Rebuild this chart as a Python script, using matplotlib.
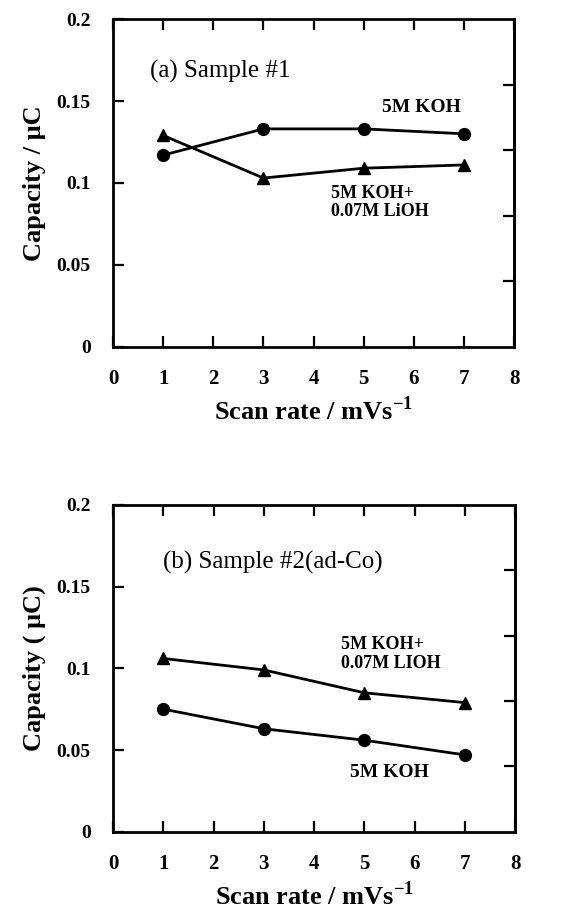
import matplotlib
matplotlib.use("Agg")
import matplotlib.pyplot as plt
import numpy as np

# Data
scan_rate = [1, 3, 5, 7]
a_koh = [0.117, 0.133, 0.133, 0.130]
a_koh_lioh = [0.129, 0.103, 0.109, 0.111]
b_koh = [0.075, 0.063, 0.056, 0.047]
b_koh_lioh = [0.106, 0.099, 0.085, 0.079]

xticks = [0, 1, 2, 3, 4, 5, 6, 7, 8]
yticks = [0, 0.05, 0.1, 0.15, 0.2]
ytick_labels = ["0", "0.05", "0.1", "0.15", "0.2"]
right_ticks = [0.04, 0.08, 0.12, 0.16]

plt.rcParams['font.family'] = ['Liberation Serif', 'DejaVu Serif']
plt.rcParams['mathtext.fontset'] = 'custom'
plt.rcParams['mathtext.rm'] = 'Liberation Serif'
plt.rcParams['mathtext.bf'] = 'Liberation Serif:bold'

fig = plt.figure(figsize=(5.68, 9.08), dpi=100)
ax1 = fig.add_axes([0.199, 0.618, 0.706, 0.361])
ax2 = fig.add_axes([0.199, 0.084, 0.708, 0.360])

def style(ax, ylabel):
    ax.set_xlim(0, 8)
    ax.set_ylim(0, 0.2)
    ax.set_xticks(xticks)
    ax.set_xticklabels([str(t) for t in xticks], fontsize=15, fontweight='bold')
    ax.set_yticks(yticks)
    ax.set_yticklabels(ytick_labels, fontsize=14, fontweight='bold')
    ax.tick_params(axis='both', direction='in', length=8, width=1.6,
                   top=True, right=False)
    ax.tick_params(axis='x', pad=16)
    ax.tick_params(axis='y', pad=16)
    for s in ax.spines.values():
        s.set_linewidth(2.0)
    sec = ax.secondary_yaxis('right')
    sec.set_yticks(right_ticks)
    sec.set_yticklabels([])
    sec.tick_params(direction='in', length=8, width=1.6)
    sec.spines['right'].set_linewidth(2.0)
    ax.set_xlabel("Scan rate / mVs$^{\\mathbf{-1}}$", fontsize=19, fontweight='bold', labelpad=5)
    ax.set_ylabel(ylabel, fontsize=19, fontweight='bold', labelpad=8)

ax1.plot(scan_rate, a_koh, '-o', color='black', lw=2, ms=8.5)
ax1.plot(scan_rate, a_koh_lioh, '-^', color='black', lw=2, ms=8.5)
style(ax1, "Capacity / μC")
ax1.text(0.74, 0.168, "(a) Sample #1", fontsize=18, va='center', ha='left')
ax1.text(6.15, 0.146, "5M KOH", fontsize=14, fontweight='bold', va='center', ha='center')
ax1.text(4.34, 0.088, "5M KOH+\n0.07M LiOH", fontsize=13, fontweight='bold',
         va='center', ha='left', linespacing=1.1)

ax2.plot(scan_rate, b_koh_lioh, '-^', color='black', lw=2, ms=8.5)
ax2.plot(scan_rate, b_koh, '-o', color='black', lw=2, ms=8.5)
style(ax2, "Capacity ( μC)")
ax2.text(1.0, 0.165, "(b) Sample #2(ad-Co)", fontsize=18, va='center', ha='left')
ax2.text(4.54, 0.109, "5M KOH+\n0.07M LIOH", fontsize=13, fontweight='bold',
         va='center', ha='left', linespacing=1.15)
ax2.text(5.5, 0.036, "5M KOH", fontsize=14, fontweight='bold', va='center', ha='center')

fig.savefig("out.png", dpi=100)
